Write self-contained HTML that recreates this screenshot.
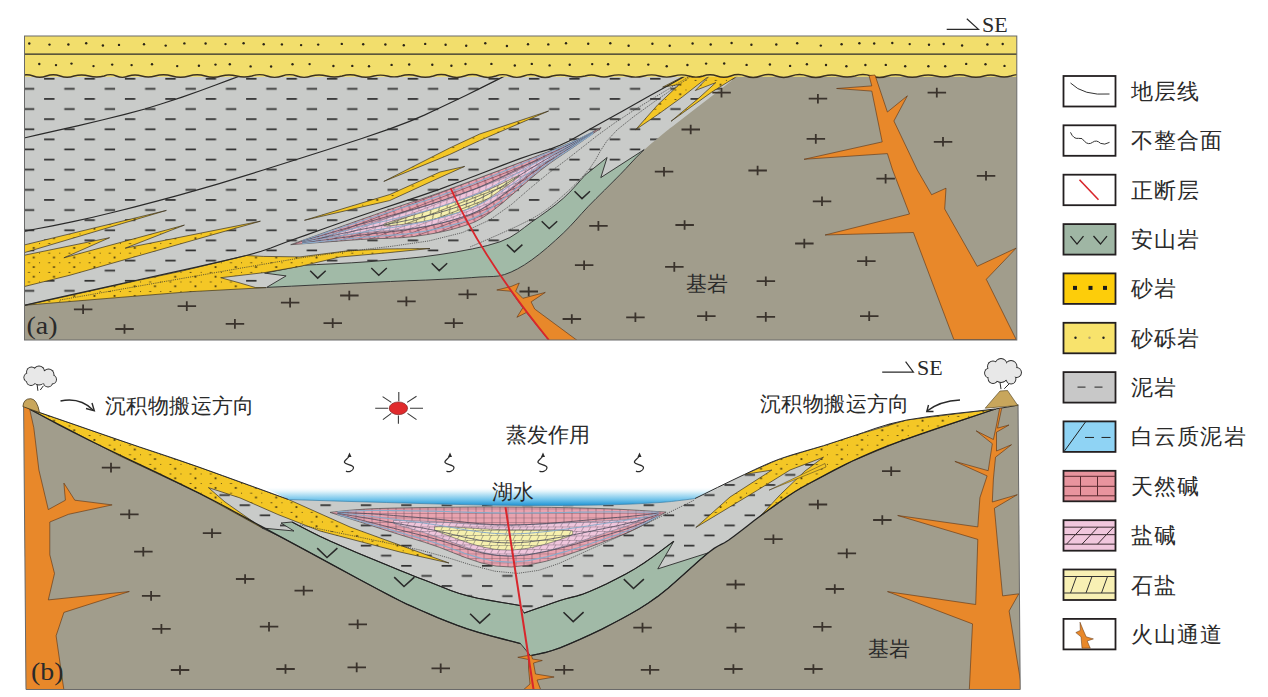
<!DOCTYPE html><html><head><meta charset="utf-8"><style>
html,body{margin:0;padding:0;background:#fff;width:1268px;height:697px;overflow:hidden}
svg{display:block}
text{font-family:"Liberation Serif",serif;fill:#2a2a2a}
</style></head><body>
<svg width="1268" height="697" viewBox="0 0 1268 697">
<defs>
<pattern id="dashA" patternUnits="userSpaceOnUse" width="40.4" height="20.2" x="44.1" y="-2.9">
<rect x="0" y="0" width="10.4" height="1.7" fill="#2e2e2e"/>
<rect x="20.2" y="10.1" width="10.4" height="1.7" fill="#2e2e2e"/>
</pattern>
<pattern id="dashB" patternUnits="userSpaceOnUse" width="40.4" height="20.2" x="37.6" y="-0.65">
<rect x="0" y="0" width="10.4" height="1.7" fill="#2e2e2e"/>
<rect x="20.2" y="10.1" width="10.4" height="1.7" fill="#2e2e2e"/>
</pattern>
<pattern id="dotsS" patternUnits="userSpaceOnUse" width="20.2" height="9.6" x="39.1" y="262.3">
<rect x="-0.9" y="-0.9" width="1.8" height="1.8" fill="#4a3a10"/>
<rect x="9.2" y="-0.9" width="1.8" height="1.8" fill="#4a3a10"/>
<rect x="14" y="3.9" width="1.8" height="1.8" fill="#4a3a10"/>
</pattern>
<pattern id="gridP" patternUnits="userSpaceOnUse" width="8" height="4.5">
<rect width="8" height="4.5" fill="#e9a3af"/>
<path d="M0 0.25H8M4 0V4.5" stroke="#7a5866" stroke-width="0.55"/>
</pattern>
<pattern id="hatchP" patternUnits="userSpaceOnUse" width="7" height="4.5">
<rect width="7" height="4.5" fill="#f0c6dc"/>
<path d="M0 0.25H7M0.5 4.5L3 0" stroke="#6a5866" stroke-width="0.5"/>
</pattern>
<pattern id="hatchY" patternUnits="userSpaceOnUse" width="8" height="5">
<rect width="8" height="5" fill="#f6f0ae"/>
<path d="M0 0.25H8M1 5L3.5 0" stroke="#555" stroke-width="0.5"/>
</pattern>
<pattern id="gridA" patternUnits="userSpaceOnUse" width="8" height="4.5" patternTransform="rotate(-21)">
<rect width="8" height="4.5" fill="#e6a0ac"/>
<path d="M0 0.3H8M4 0V4.5" stroke="#5a3a48" stroke-width="0.65"/>
</pattern>
<pattern id="hatchPA" patternUnits="userSpaceOnUse" width="7" height="4.5" patternTransform="rotate(-21)">
<rect width="7" height="4.5" fill="#f0c6dc"/>
<path d="M0 0.25H7M0.5 4.5L3 0" stroke="#6a5866" stroke-width="0.5"/>
</pattern>
<pattern id="hatchYA" patternUnits="userSpaceOnUse" width="9" height="6" patternTransform="rotate(-21)">
<rect width="9" height="6" fill="#f6f0ae"/>
<path d="M0 0.3H9M1 6L4.5 0" stroke="#3a3a30" stroke-width="0.7"/>
</pattern>
<linearGradient id="lake" x1="0" y1="0" x2="0" y2="1">
<stop offset="0" stop-color="#ffffff" stop-opacity="0"/>
<stop offset="0.3" stop-color="#d6eff9"/>
<stop offset="0.7" stop-color="#6ec2ea"/>
<stop offset="1" stop-color="#1f92d3"/>
</linearGradient>
<clipPath id="clipA"><rect x="24.5" y="36" width="992.3" height="304"/></clipPath>
<clipPath id="clipB"><polygon points="23.6,380 1018,380 1020.2,689.5 26,689.5"/></clipPath>
</defs>

<g clip-path="url(#clipA)">
<rect x="24" y="36" width="994" height="305" fill="#a19d8c"/>
<polygon points="24.0,60.0 745.0,60.0 745.0,70.0 744.9,70.1 745.2,70.0 743.6,71.3 738.1,75.6 726.4,84.7 710.0,97.4 693.4,110.3 680.5,120.3 673.1,126.0 668.8,129.3 665.6,131.8 661.7,135.0 656.6,139.2 651.3,143.6 646.0,148.2 640.7,153.0 635.8,157.9 631.0,163.0 625.9,168.5 620.0,174.7 612.7,182.0 604.5,190.2 596.1,198.5 588.4,206.3 581.8,213.4 575.8,220.1 569.8,226.6 563.2,233.2 555.6,240.2 547.5,247.4 539.3,254.2 531.6,260.0 524.5,264.8 517.7,268.8 511.2,272.0 504.7,274.5 498.7,276.0 493.2,276.5 487.2,276.7 480.0,277.0 471.8,277.6 462.8,278.2 452.5,278.8 440.0,279.4 425.4,280.1 409.0,280.7 390.5,281.5 370.0,282.4 345.9,283.5 318.8,284.8 291.4,286.2 266.7,287.4 247.7,288.3 232.2,289.0 214.8,290.0 190.0,291.7 150.9,294.8 102.4,298.8 56.2,302.6 24.3,305.3 24.0,310.0" fill="#c9cbc9" />
<polygon points="24.0,60.0 745.0,60.0 745.0,70.0 744.9,70.1 745.2,70.0 743.6,71.3 738.1,75.6 726.4,84.7 710.0,97.4 693.4,110.3 680.5,120.3 673.1,126.0 668.8,129.3 665.6,131.8 661.7,135.0 656.6,139.2 651.3,143.6 646.0,148.2 640.7,153.0 635.8,157.9 631.0,163.0 625.9,168.5 620.0,174.7 612.7,182.0 604.5,190.2 596.1,198.5 588.4,206.3 581.8,213.4 575.8,220.1 569.8,226.6 563.2,233.2 555.6,240.2 547.5,247.4 539.3,254.2 531.6,260.0 524.5,264.8 517.7,268.8 511.2,272.0 504.7,274.5 498.7,276.0 493.2,276.5 487.2,276.7 480.0,277.0 471.8,277.6 462.8,278.2 452.5,278.8 440.0,279.4 425.4,280.1 409.0,280.7 390.5,281.5 370.0,282.4 345.9,283.5 318.8,284.8 291.4,286.2 266.7,287.4 247.7,288.3 232.2,289.0 214.8,290.0 190.0,291.7 150.9,294.8 102.4,298.8 56.2,302.6 24.3,305.3 24.0,310.0" fill="url(#dashA)" />
<polygon points="266.7,287.4 286.1,275.9 264.6,273.1 304.7,265.2 316.3,264.6 333.0,263.8 351.8,262.8 370.0,261.6 387.4,260.2 405.3,258.6 423.1,256.8 440.0,254.5 456.4,251.9 472.4,248.9 487.2,245.6 500.0,241.8 509.9,237.5 517.6,232.6 524.4,227.5 531.6,222.1 539.7,216.4 548.0,210.5 556.0,204.4 563.2,198.4 569.9,192.0 576.1,185.3 581.3,179.4 585.0,175.2 607.1,157.5 600.8,177.6 644.2,149.6 640.7,153.0 635.8,157.9 631.0,163.0 625.9,168.5 620.0,174.7 612.7,182.0 604.5,190.2 596.1,198.5 588.4,206.3 581.8,213.4 575.8,220.1 569.8,226.6 563.2,233.2 555.6,240.2 547.5,247.4 539.3,254.2 531.6,260.0 524.5,264.8 517.7,268.8 511.2,272.0 504.7,274.5 498.7,276.0 493.2,276.5 487.2,276.7 480.0,277.0 471.8,277.6 462.8,278.2 452.5,278.8 440.0,279.4 425.4,280.1 409.0,280.7 390.5,281.5 370.0,282.4 345.9,283.5 318.8,284.8 291.4,286.2 266.7,287.4" fill="#a1baa7" stroke="#2a2a2a" stroke-width="0.9" />
<polygon points="24.5,244.9 166.4,210.4 24.5,252.6" fill="#f4c726" stroke="#3a3020" stroke-width="0.7" />
<polygon points="24.5,244.9 166.4,210.4 24.5,252.6" fill="url(#dotsS)" />
<polygon points="24.5,255.2 109.6,237.7 63.9,257.8 184.4,225.1 125.2,248.2 260.4,221.2 70.0,275.2 24.5,286.5" fill="#f4c726" stroke="#3a3020" stroke-width="0.7" />
<polygon points="24.5,255.2 109.6,237.7 63.9,257.8 184.4,225.1 125.2,248.2 260.4,221.2 70.0,275.2 24.5,286.5" fill="url(#dotsS)" />
<polygon points="304.4,220.3 389.8,194.5 440.0,172.0 464.7,166.4 440.0,177.5 389.8,200.5" fill="#f4c726" stroke="#3a3020" stroke-width="0.7" />
<polygon points="304.4,220.3 389.8,194.5 440.0,172.0 464.7,166.4 440.0,177.5 389.8,200.5" fill="url(#dotsS)" />
<polygon points="383.8,181.4 449.7,148.0 479.7,134.0 548.6,111.0 479.7,140.5 449.7,154.5" fill="#f4c726" stroke="#3a3020" stroke-width="0.7" />
<polygon points="383.8,181.4 449.7,148.0 479.7,134.0 548.6,111.0 479.7,140.5 449.7,154.5" fill="url(#dotsS)" />
<polygon points="41.3,301.8 137.7,280.5 180.0,271.5 246.2,255.5 263.3,256.4 300.0,256.9 347.8,250.8 385.0,249.0 430.0,248.5 385.0,253.0 340.0,257.0 300.0,266.4 265.1,272.5 220.7,277.7 240.0,283.0 255.7,287.6 266.1,287.6 190.0,291.7 120.0,297.4 24.3,305.3" fill="#f4c726" stroke="#3a3020" stroke-width="0.7" />
<polygon points="41.3,301.8 137.7,280.5 180.0,271.5 246.2,255.5 263.3,256.4 300.0,256.9 347.8,250.8 385.0,249.0 430.0,248.5 385.0,253.0 340.0,257.0 300.0,266.4 265.1,272.5 220.7,277.7 240.0,283.0 255.7,287.6 266.1,287.6 190.0,291.7 120.0,297.4 24.3,305.3" fill="url(#dotsS)" />
<polygon points="685.9,75.1 710.2,75.1 682.2,97.0 658.9,113.8 635.6,129.7 658.0,104.5 679.4,84.4 662.6,87.2" fill="#f4c726" stroke="#3a3020" stroke-width="0.7" />
<polygon points="685.9,75.1 710.2,75.1 682.2,97.0 658.9,113.8 635.6,129.7 658.0,104.5 679.4,84.4 662.6,87.2" fill="url(#dotsS)" />
<polygon points="710.2,75.1 738.1,75.6 712.0,91.9 671.0,121.3 700.0,97.0 715.8,82.6 695.3,90.5" fill="#f4c726" stroke="#3a3020" stroke-width="0.7" />
<polygon points="710.2,75.1 738.1,75.6 712.0,91.9 671.0,121.3 700.0,97.0 715.8,82.6 695.3,90.5" fill="url(#dotsS)" />
<polygon points="290.7,244.7 300.9,241.0 315.5,235.8 331.8,229.9 347.0,224.5 360.8,219.6 374.5,214.8 387.7,210.2 400.0,206.0 410.0,202.7 418.3,200.0 427.5,196.9 440.0,192.5 457.9,185.9 479.3,177.9 501.1,169.7 520.0,162.5 535.2,156.7 548.5,151.6 560.2,146.9 570.8,142.5 580.5,138.0 589.1,133.8 596.1,130.1 601.0,127.5 601.0,128.1 595.6,131.8 587.8,137.2 579.1,143.3 570.8,149.0 563.7,153.8 557.0,158.3 549.6,163.5 540.6,170.3 529.0,180.0 515.5,191.8 502.0,203.4 490.4,212.5 481.8,218.2 475.1,221.8 468.5,224.4 460.3,227.0 450.1,229.9 438.7,232.5 426.6,234.7 414.1,236.5 401.6,237.7 388.7,238.3 375.1,238.7 360.4,239.5 342.5,240.8 322.2,242.3 303.6,243.7 290.7,244.7" fill="url(#gridA)" stroke="#4a4a4a" stroke-width="0.7" />
<polygon points="321.7,237.7 325.6,236.5 329.5,235.4 333.4,234.3 337.2,233.1 341.1,232.0 345.0,230.8 348.9,229.7 352.8,228.5 356.6,227.3 360.5,226.1 364.4,225.0 368.3,223.8 372.2,222.6 376.0,221.4 379.9,220.2 383.8,219.0 387.7,217.8 391.5,216.6 395.4,215.4 399.3,214.2 403.2,213.0 407.1,211.8 410.9,210.6 414.8,209.5 418.7,208.2 422.6,207.0 426.5,205.8 430.3,204.5 434.2,203.2 438.1,201.9 442.0,200.6 445.9,199.3 449.7,198.0 453.6,196.6 457.5,195.3 461.4,193.9 465.2,192.5 469.1,191.2 473.0,189.8 476.9,188.4 480.8,186.9 484.6,185.3 488.5,183.7 492.4,182.0 496.3,180.3 500.2,178.6 504.0,176.9 507.9,175.1 511.8,173.3 515.7,171.5 519.5,169.7 523.4,167.8 527.3,166.0 531.2,164.1 535.1,162.3 538.9,160.4 542.8,158.5 546.7,156.7 550.6,154.8 554.5,153.0 558.3,151.2 562.2,149.3 566.1,147.5 570.0,145.5 573.8,143.5 577.7,141.4 581.6,139.3 581.6,139.7 577.7,142.1 573.8,144.5 570.0,146.9 566.1,149.2 562.2,151.6 558.3,153.9 554.5,156.3 550.6,158.7 546.7,161.3 542.8,163.9 538.9,166.6 535.1,169.4 531.2,172.3 527.3,175.2 523.4,178.2 519.5,181.3 515.7,184.3 511.8,187.3 507.9,190.3 504.0,193.3 500.2,196.3 496.3,199.1 492.4,201.9 488.5,204.5 484.6,206.9 480.8,209.3 476.9,211.3 473.0,213.1 469.1,214.7 465.2,216.0 461.4,217.4 457.5,218.6 453.6,219.8 449.7,220.9 445.9,221.9 442.0,222.9 438.1,223.8 434.2,224.6 430.3,225.4 426.5,226.2 422.6,226.8 418.7,227.4 414.8,228.0 410.9,228.5 407.1,229.0 403.2,229.4 399.3,229.8 395.4,230.1 391.5,230.4 387.7,230.7 383.8,231.0 379.9,231.3 376.0,231.6 372.2,232.0 368.3,232.3 364.4,232.7 360.5,233.1 356.6,233.5 352.8,234.0 348.9,234.5 345.0,235.0 341.1,235.5 337.2,236.0 333.4,236.5 329.5,237.1 325.6,237.6 321.7,238.2" fill="url(#hatchPA)" stroke="#6a7a90" stroke-width="0.6" />
<polygon points="383.8,224.1 387.7,222.8 391.5,221.6 395.4,220.4 399.3,219.3 403.2,218.1 407.1,216.9 410.9,215.8 414.8,214.7 418.7,213.5 422.6,212.3 426.5,211.2 430.3,209.9 434.2,208.7 438.1,207.5 442.0,206.2 445.9,204.9 449.7,203.7 453.6,202.4 457.5,201.1 461.4,199.9 465.2,198.6 469.1,197.3 473.0,196.0 476.9,194.5 480.8,193.0 484.6,191.4 488.5,189.8 492.4,188.0 496.3,186.2 500.2,184.4 504.0,182.5 507.9,180.6 511.8,178.7 515.7,176.8 519.5,175.2 519.5,175.8 515.7,179.0 511.8,181.9 507.9,184.8 504.0,187.7 500.2,190.5 496.3,193.2 492.4,195.9 488.5,198.4 484.6,200.8 480.8,203.1 476.9,205.1 473.0,206.9 469.1,208.6 465.2,210.0 461.4,211.4 457.5,212.7 453.6,214.0 449.7,215.2 445.9,216.2 442.0,217.3 438.1,218.3 434.2,219.2 430.3,220.0 426.5,220.8 422.6,221.5 418.7,222.2 414.8,222.8 410.9,223.3 407.1,223.8 403.2,224.3 399.3,224.7 395.4,225.1 391.5,225.5 387.7,225.8 383.8,226.0" fill="url(#hatchYA)" stroke="#555" stroke-width="0.6" />
<polyline points="302.3,240.8 306.2,239.5 310.1,238.2 314.0,236.8 317.9,235.5 321.7,234.2 325.6,232.9 329.5,231.6 333.4,230.3 337.2,229.0 341.1,227.7 345.0,226.4 348.9,225.2 352.8,223.9 356.6,222.6 360.5,221.3 364.4,220.0 368.3,218.8 372.2,217.5 376.0,216.3 379.9,215.0 383.8,213.8 387.7,212.5 391.5,211.3 395.4,210.0 399.3,208.8 403.2,207.5 407.1,206.3 410.9,205.1 414.8,203.9 418.7,202.7 422.6,201.5 426.5,200.3 430.3,199.0 434.2,197.6 438.1,196.3 442.0,195.0 445.9,193.6 449.7,192.2 453.6,190.8 457.5,189.4 461.4,188.0 465.2,186.5 469.1,185.1 473.0,183.7 476.9,182.2 480.8,180.7 484.6,179.1 488.5,177.6 492.4,176.0 496.3,174.4 500.2,172.8 504.0,171.2 507.9,169.6 511.8,168.0 515.7,166.4 519.5,164.7 523.4,163.1 527.3,161.5 531.2,159.8 535.1,158.2 538.9,156.6 542.8,154.9 546.7,153.3 550.6,151.7 554.5,150.1 558.3,148.4 562.2,146.8 566.1,145.1 570.0,143.4 573.8,141.6 577.7,139.7 581.6,137.8 585.5,135.8 589.4,133.8 593.2,131.7" fill="none" stroke="#8aaac8" stroke-width="1.2" />
<polyline points="302.3,241.2 306.2,240.1 310.1,238.9 314.0,237.8 317.9,236.6 321.7,235.5 325.6,234.3 329.5,233.2 333.4,232.0 337.2,230.9 341.1,229.7 345.0,228.6 348.9,227.5 352.8,226.3 356.6,225.2 360.5,224.1 364.4,223.0 368.3,221.9 372.2,220.8 376.0,219.7 379.9,218.6 383.8,217.5 387.7,216.4 391.5,215.3 395.4,214.3 399.3,213.2 403.2,212.1 407.1,211.0 410.9,209.9 414.8,208.9 418.7,207.8 422.6,206.6 426.5,205.5 430.3,204.3 434.2,203.1 438.1,201.8 442.0,200.6 445.9,199.3 449.7,197.9 453.6,196.6 457.5,195.2 461.4,193.9 465.2,192.5 469.1,191.0 473.0,189.6 476.9,188.1 480.8,186.5 484.6,184.8 488.5,183.1 492.4,181.3 496.3,179.5 500.2,177.7 504.0,175.9 507.9,174.0 511.8,172.1 515.7,170.2 519.5,168.3 523.4,166.4 527.3,164.5 531.2,162.6 535.1,160.7 538.9,158.9 542.8,157.0 546.7,155.2 550.6,153.4 554.5,151.6 558.3,149.8 562.2,148.0 566.1,146.2 570.0,144.3 573.8,142.4 577.7,140.4 581.6,138.4 585.5,136.3 589.4,134.2 593.2,132.0" fill="none" stroke="#4a4a5a" stroke-width="0.8" />
<polyline points="302.3,241.7 306.2,240.7 310.1,239.7 314.0,238.7 317.9,237.7 321.7,236.7 325.6,235.7 329.5,234.7 333.4,233.7 337.2,232.7 341.1,231.7 345.0,230.7 348.9,229.8 352.8,228.8 356.6,227.8 360.5,226.8 364.4,225.9 368.3,225.0 372.2,224.0 376.0,223.1 379.9,222.2 383.8,221.3 387.7,220.4 391.5,219.4 395.4,218.5 399.3,217.6 403.2,216.7 407.1,215.7 410.9,214.7 414.8,213.8 418.7,212.8 422.6,211.8 426.5,210.7 430.3,209.6 434.2,208.5 438.1,207.4 442.0,206.2 445.9,204.9 449.7,203.7 453.6,202.4 457.5,201.1 461.4,199.8 465.2,198.4 469.1,197.0 473.0,195.5 476.9,193.9 480.8,192.3 484.6,190.5 488.5,188.6 492.4,186.6 496.3,184.6 500.2,182.6 504.0,180.5 507.9,178.3 511.8,176.2 515.7,174.1 519.5,171.9 523.4,169.7 527.3,167.6 531.2,165.4 535.1,163.3 538.9,161.2 542.8,159.1 546.7,157.1 550.6,155.1 554.5,153.1 558.3,151.2 562.2,149.2 566.1,147.2 570.0,145.3 573.8,143.2 577.7,141.1 581.6,138.9 585.5,136.7 589.4,134.5 593.2,132.2" fill="none" stroke="#8aaac8" stroke-width="1.0" />
<polyline points="302.3,242.2 306.2,241.3 310.1,240.5 314.0,239.6 317.9,238.8 321.7,237.9 325.6,237.1 329.5,236.2 333.4,235.4 337.2,234.6 341.1,233.7 345.0,232.9 348.9,232.1 352.8,231.3 356.6,230.4 360.5,229.6 364.4,228.8 368.3,228.1 372.2,227.3 376.0,226.5 379.9,225.8 383.8,225.0 387.7,224.3 391.5,223.5 395.4,222.8 399.3,222.0 403.2,221.2 407.1,220.4 410.9,219.6 414.8,218.7 418.7,217.8 422.6,216.9 426.5,216.0 430.3,215.0 434.2,213.9 438.1,212.9 442.0,211.7 445.9,210.6 449.7,209.4 453.6,208.2 457.5,206.9 461.4,205.6 465.2,204.3 469.1,202.9 473.0,201.4 476.9,199.8 480.8,198.1 484.6,196.1 488.5,194.1 492.4,192.0 496.3,189.7 500.2,187.5 504.0,185.1 507.9,182.7 511.8,180.3 515.7,177.9 519.5,175.5 523.4,173.0 527.3,170.6 531.2,168.2 535.1,165.8 538.9,163.5 542.8,161.2 546.7,159.0 550.6,156.8 554.5,154.6 558.3,152.5 562.2,150.4 566.1,148.3 570.0,146.2 573.8,144.0 577.7,141.8 581.6,139.5 585.5,137.2 589.4,134.9 593.2,132.5" fill="none" stroke="#4a4a5a" stroke-width="0.8" />
<polyline points="302.3,242.6 306.2,241.9 310.1,241.2 314.0,240.5 317.9,239.9 321.7,239.2 325.6,238.5 329.5,237.8 333.4,237.1 337.2,236.4 341.1,235.7 345.0,235.1 348.9,234.4 352.8,233.7 356.6,233.0 360.5,232.4 364.4,231.8 368.3,231.1 372.2,230.5 376.0,229.9 379.9,229.4 383.8,228.8 387.7,228.2 391.5,227.6 395.4,227.0 399.3,226.4 403.2,225.8 407.1,225.1 410.9,224.4 414.8,223.7 418.7,222.9 422.6,222.1 426.5,221.2 430.3,220.3 434.2,219.3 438.1,218.4 442.0,217.3 445.9,216.3 449.7,215.2 453.6,214.0 457.5,212.8 461.4,211.5 465.2,210.2 469.1,208.9 473.0,207.4 476.9,205.7 480.8,203.9 484.6,201.8 488.5,199.6 492.4,197.3 496.3,194.8 500.2,192.3 504.0,189.8 507.9,187.1 511.8,184.4 515.7,181.8 519.5,179.1 523.4,176.4 527.3,173.7 531.2,171.0 535.1,168.4 538.9,165.8 542.8,163.3 546.7,160.8 550.6,158.4 554.5,156.2 558.3,153.9 562.2,151.7 566.1,149.4 570.0,147.1 573.8,144.8 577.7,142.4 581.6,140.1 585.5,137.6 589.4,135.2 593.2,132.8" fill="none" stroke="#8aaac8" stroke-width="1.0" />
<polyline points="302.3,243.1 306.2,242.5 310.1,242.0 314.0,241.5 317.9,240.9 321.7,240.4 325.6,239.9 329.5,239.3 333.4,238.8 337.2,238.3 341.1,237.7 345.0,237.2 348.9,236.7 352.8,236.2 356.6,235.7 360.5,235.1 364.4,234.7 368.3,234.2 372.2,233.8 376.0,233.3 379.9,232.9 383.8,232.5 387.7,232.1 391.5,231.7 395.4,231.3 399.3,230.8 403.2,230.3 407.1,229.8 410.9,229.2 414.8,228.6 418.7,227.9 422.6,227.2 426.5,226.5 430.3,225.6 434.2,224.8 438.1,223.9 442.0,222.9 445.9,221.9 449.7,220.9 453.6,219.8 457.5,218.6 461.4,217.4 465.2,216.1 469.1,214.8 473.0,213.3 476.9,211.6 480.8,209.7 484.6,207.4 488.5,205.1 492.4,202.6 496.3,199.9 500.2,197.2 504.0,194.4 507.9,191.5 511.8,188.5 515.7,185.6 519.5,182.6 523.4,179.7 527.3,176.7 531.2,173.8 535.1,170.9 538.9,168.1 542.8,165.3 546.7,162.7 550.6,160.1 554.5,157.7 558.3,155.3 562.2,152.9 566.1,150.5 570.0,148.1 573.8,145.6 577.7,143.1 581.6,140.6 585.5,138.1 589.4,135.6 593.2,133.0" fill="none" stroke="#4a4a5a" stroke-width="0.8" />
<polyline points="302.3,243.5 306.2,243.1 310.1,242.7 314.0,242.3 317.9,241.9 321.7,241.4 325.6,241.0 329.5,240.6 333.4,240.2 337.2,239.8 341.1,239.4 345.0,239.1 348.9,238.7 352.8,238.3 356.6,237.9 360.5,237.5 364.4,237.2 368.3,236.9 372.2,236.6 376.0,236.3 379.9,236.0 383.8,235.8 387.7,235.5 391.5,235.2 395.4,234.9 399.3,234.6 403.2,234.2 407.1,233.8 410.9,233.3 414.8,232.9 418.7,232.2 422.6,231.6 426.5,231.0 430.3,230.2 434.2,229.4 438.1,228.6 442.0,227.7 445.9,226.8 449.7,225.9 453.6,224.7 457.5,223.6 461.4,222.5 465.2,221.2 469.1,219.9 473.0,218.4 476.9,216.6 480.8,214.6 484.6,212.3 488.5,209.8 492.4,207.1 496.3,204.3 500.2,201.4 504.0,198.4 507.9,195.2 511.8,192.1 515.7,188.9 519.5,185.7 523.4,182.5 527.3,179.3 531.2,176.2 535.1,173.1 538.9,170.0 542.8,167.1 546.7,164.3 550.6,161.6 554.5,159.0 558.3,156.4 562.2,153.9 566.1,151.4 570.0,148.9 573.8,146.3 577.7,143.7 581.6,141.1 585.5,138.5 589.4,135.9 593.2,133.3" fill="none" stroke="#8aaac8" stroke-width="1.2" />
<g fill="none" stroke="#2a2a2a" stroke-width="1.2">
<polyline points="24.0,138.0 37.5,134.9 56.3,130.6 78.6,125.6 102.1,120.0 124.9,114.4 145.0,109.0 163.4,103.3 182.1,97.1 200.1,90.7 216.3,84.7 230.0,79.6 240.0,76.0" fill="none" stroke="#2a2a2a" stroke-width="1.2" />
<polyline points="24.0,231.3 35.7,229.0 52.4,225.8 71.8,221.9 91.8,217.5 112.5,212.5 134.9,206.8 157.8,200.8 180.0,194.8 200.2,189.1 219.3,183.6 239.6,177.4 263.3,170.0 293.4,160.5 328.0,149.5 361.8,138.5 389.8,128.9 409.6,121.4 424.3,115.1 436.8,109.3 450.0,103.0 465.8,95.5 482.1,87.4 496.6,80.1 506.7,75.0" fill="none" stroke="#2a2a2a" stroke-width="1.2" />
<polyline points="24.3,305.3 44.8,300.7 74.2,294.2 107.0,286.9 137.7,280.0 166.7,273.6 196.3,267.1 223.7,260.9 246.2,255.5 261.2,251.3 270.8,248.0 279.2,244.7 290.5,240.5 305.9,235.1 323.0,229.0 341.3,222.5 360.0,216.0 379.3,209.5 399.3,202.9 419.8,196.1 440.0,189.1 460.9,181.3 482.5,173.0 502.8,165.1 520.0,158.6 532.8,154.3 542.4,151.4 550.9,148.9 560.0,145.3 569.1,141.0 577.6,136.3 587.6,130.6 601.0,123.0 621.4,111.7 646.6,97.6 670.5,84.2 687.0,75.0" fill="none" stroke="#2a2a2a" stroke-width="1.2" />
</g>
<polyline points="60.0,300.0 104.9,292.1 169.8,280.6 239.8,268.3 300.0,258.0 347.9,251.3 390.9,246.4 429.0,240.9 462.4,232.6 489.6,220.0 511.2,204.7 529.7,188.6 548.0,173.6 565.9,160.2 582.2,147.4 598.1,134.9 615.0,122.7 634.9,109.6 656.7,96.2 676.3,84.3 690.0,76.0" fill="none" stroke="#333" stroke-width="0.7" stroke-dasharray="1.2 1"/>
<polyline points="470.0,247.0 481.8,241.9 498.8,234.5 516.9,226.3 531.6,219.0 541.7,212.9 549.6,207.2 556.3,201.6 563.2,195.5 570.2,189.2 576.9,182.7 583.4,175.7 590.0,168.0 595.7,159.6 600.6,150.6 607.0,140.8 617.0,130.0 633.7,116.6 655.2,101.1 675.8,86.9 690.0,77.0" fill="none" stroke="#333" stroke-width="0.6" stroke-dasharray="1.5 0.8"/>
<rect x="24" y="35.8" width="994" height="41" fill="#f2de6c"/>
<line x1="24" y1="54.1" x2="1018" y2="54.1" stroke="#2a2a2a" stroke-width="1.2"/>
<path d="M20,76 q6.6,-2.5 13.2,0 q6.6,2.5 13.2,0 q6.9,-2.5 13.8,0 q6.9,2.5 13.8,0 q7.6,-1.9 15.1,0 q7.6,1.9 15.1,0 q6.0,-2.8 12.1,0 q6.0,2.8 12.1,0 q6.6,-2.1 13.3,0 q6.6,2.1 13.3,0 q8.5,-2.4 17.0,0 q8.5,2.4 17.0,0 q8.1,-2.4 16.2,0 q8.1,2.4 16.2,0 q7.6,-2.0 15.2,0 q7.6,2.0 15.2,0 q7.6,-2.8 15.2,0 q7.6,2.8 15.2,0 q7.3,-2.7 14.6,0 q7.3,2.7 14.6,0 q7.7,-1.9 15.4,0 q7.7,1.9 15.4,0 q7.9,-2.5 15.8,0 q7.9,2.5 15.8,0 q6.8,-1.8 13.5,0 q6.8,1.8 13.5,0 q8.2,-2.4 16.3,0 q8.2,2.4 16.3,0 q7.8,-2.9 15.6,0 q7.8,2.9 15.6,0 q7.8,-2.9 15.6,0 q7.8,2.9 15.6,0 q7.0,-2.8 14.0,0 q7.0,2.8 14.0,0 q7.1,-2.9 14.2,0 q7.1,2.9 14.2,0 q8.2,-1.9 16.4,0 q8.2,1.9 16.4,0 q6.3,-2.1 12.7,0 q6.3,2.1 12.7,0 q8.4,-2.3 16.8,0 q8.4,2.3 16.8,0 q7.6,-2.2 15.1,0 q7.6,2.2 15.1,0 q7.3,-2.3 14.5,0 q7.3,2.3 14.5,0 q6.9,-2.5 13.8,0 q6.9,2.5 13.8,0 q7.5,-2.9 14.9,0 q7.5,2.9 14.9,0 q7.7,-2.9 15.4,0 q7.7,2.9 15.4,0 q8.1,-3.0 16.3,0 q8.1,3.0 16.3,0 q7.7,-2.0 15.4,0 q7.7,2.0 15.4,0 q8.2,-3.0 16.3,0 q8.2,3.0 16.3,0 q8.3,-2.5 16.5,0 q8.3,2.5 16.5,0 q7.8,-2.1 15.6,0 q7.8,2.1 15.6,0 q8.1,-2.5 16.2,0 q8.1,2.5 16.2,0 q6.7,-1.9 13.4,0 q6.7,1.9 13.4,0 q8.1,-3.0 16.3,0 q8.1,3.0 16.3,0" fill="none" stroke="#3a3020" stroke-width="1.4"/>
<g fill="#2a2418"><circle cx="29.3" cy="43.5" r="1.2"/><circle cx="49.5" cy="44.6" r="1.2"/><circle cx="68.4" cy="44.5" r="1.2"/><circle cx="86.2" cy="43.2" r="1.2"/><circle cx="102.9" cy="45.5" r="1.2"/><circle cx="119.0" cy="44.9" r="1.2"/><circle cx="144.0" cy="44.2" r="1.2"/><circle cx="165.7" cy="45.6" r="1.2"/><circle cx="184.4" cy="43.4" r="1.2"/><circle cx="205.6" cy="43.5" r="1.2"/><circle cx="225.5" cy="44.1" r="1.2"/><circle cx="243.6" cy="43.2" r="1.2"/><circle cx="263.7" cy="44.3" r="1.2"/><circle cx="281.9" cy="44.4" r="1.2"/><circle cx="301.1" cy="45.1" r="1.2"/><circle cx="318.2" cy="44.6" r="1.2"/><circle cx="341.8" cy="43.9" r="1.2"/><circle cx="363.2" cy="44.3" r="1.2"/><circle cx="385.4" cy="44.5" r="1.2"/><circle cx="403.8" cy="45.3" r="1.2"/><circle cx="425.2" cy="43.9" r="1.2"/><circle cx="445.6" cy="44.7" r="1.2"/><circle cx="466.2" cy="45.8" r="1.2"/><circle cx="485.3" cy="43.2" r="1.2"/><circle cx="506.9" cy="46.0" r="1.2"/><circle cx="528.0" cy="44.2" r="1.2"/><circle cx="548.3" cy="44.4" r="1.2"/><circle cx="566.0" cy="43.2" r="1.2"/><circle cx="588.2" cy="43.7" r="1.2"/><circle cx="610.3" cy="43.2" r="1.2"/><circle cx="628.6" cy="45.7" r="1.2"/><circle cx="652.4" cy="43.8" r="1.2"/><circle cx="669.7" cy="45.7" r="1.2"/><circle cx="692.6" cy="43.5" r="1.2"/><circle cx="710.7" cy="44.5" r="1.2"/><circle cx="731.6" cy="43.0" r="1.2"/><circle cx="751.4" cy="44.7" r="1.2"/><circle cx="776.3" cy="44.5" r="1.2"/><circle cx="797.2" cy="43.2" r="1.2"/><circle cx="820.8" cy="45.6" r="1.2"/><circle cx="841.6" cy="44.2" r="1.2"/><circle cx="859.4" cy="43.2" r="1.2"/><circle cx="874.2" cy="43.5" r="1.2"/><circle cx="892.3" cy="43.0" r="1.2"/><circle cx="909.7" cy="44.1" r="1.2"/><circle cx="929.0" cy="44.8" r="1.2"/><circle cx="943.7" cy="44.0" r="1.2"/><circle cx="962.1" cy="45.5" r="1.2"/><circle cx="987.4" cy="44.5" r="1.2"/><circle cx="1002.7" cy="44.0" r="1.2"/><circle cx="39.3" cy="64.0" r="1.2"/><circle cx="56.0" cy="65.1" r="1.2"/><circle cx="71.5" cy="63.6" r="1.2"/><circle cx="93.5" cy="66.1" r="1.2"/><circle cx="112.2" cy="64.6" r="1.2"/><circle cx="131.6" cy="65.1" r="1.2"/><circle cx="152.0" cy="64.2" r="1.2"/><circle cx="177.2" cy="66.1" r="1.2"/><circle cx="198.9" cy="65.7" r="1.2"/><circle cx="215.5" cy="64.6" r="1.2"/><circle cx="229.8" cy="64.3" r="1.2"/><circle cx="250.6" cy="66.4" r="1.2"/><circle cx="271.1" cy="66.5" r="1.2"/><circle cx="292.5" cy="64.2" r="1.2"/><circle cx="309.6" cy="64.1" r="1.2"/><circle cx="333.4" cy="66.0" r="1.2"/><circle cx="352.3" cy="65.9" r="1.2"/><circle cx="369.0" cy="66.2" r="1.2"/><circle cx="391.6" cy="64.9" r="1.2"/><circle cx="409.2" cy="64.5" r="1.2"/><circle cx="432.3" cy="64.7" r="1.2"/><circle cx="451.4" cy="65.7" r="1.2"/><circle cx="465.5" cy="64.0" r="1.2"/><circle cx="491.4" cy="63.9" r="1.2"/><circle cx="514.8" cy="65.5" r="1.2"/><circle cx="531.8" cy="63.9" r="1.2"/><circle cx="549.6" cy="65.4" r="1.2"/><circle cx="569.7" cy="64.8" r="1.2"/><circle cx="592.2" cy="64.1" r="1.2"/><circle cx="608.1" cy="64.2" r="1.2"/><circle cx="628.7" cy="64.8" r="1.2"/><circle cx="648.3" cy="64.6" r="1.2"/><circle cx="666.7" cy="66.2" r="1.2"/><circle cx="687.4" cy="65.0" r="1.2"/><circle cx="706.1" cy="63.6" r="1.2"/><circle cx="724.2" cy="63.5" r="1.2"/><circle cx="746.6" cy="64.9" r="1.2"/><circle cx="769.9" cy="64.5" r="1.2"/><circle cx="790.1" cy="65.9" r="1.2"/><circle cx="806.9" cy="64.2" r="1.2"/><circle cx="826.0" cy="65.0" r="1.2"/><circle cx="846.4" cy="66.2" r="1.2"/><circle cx="865.4" cy="65.0" r="1.2"/><circle cx="885.8" cy="64.9" r="1.2"/><circle cx="905.2" cy="66.3" r="1.2"/><circle cx="928.4" cy="66.3" r="1.2"/><circle cx="945.2" cy="66.3" r="1.2"/><circle cx="966.2" cy="63.9" r="1.2"/><circle cx="985.5" cy="64.2" r="1.2"/><circle cx="1004.5" cy="65.9" r="1.2"/></g>
<polygon points="869.0,75.5 875.0,75.0 887.4,112.0 907.4,95.8 893.9,121.0 917.3,170.0 931.6,194.7 946.0,188.2 944.7,209.0 977.2,266.3 1016.2,248.1 986.3,279.3 1016.2,339.5 953.8,339.5 913.4,232.5 825.0,235.0 909.5,214.0 892.6,170.0 887.4,153.6 804.0,159.3 882.2,141.9 871.8,91.1 836.6,88.5 871.8,85.9" fill="#e8882a" stroke="#5a3010" stroke-width="0.6" />
<polygon points="496.8,290.0 511.0,286.5 519.3,283.0 515.7,291.2 522.8,298.3 545.3,292.4 531.1,301.9 534.7,309.0 577.3,340.5 548.9,340.5 526.4,312.5 516.9,317.3 522.8,307.8 511.0,291.2" fill="#e8882a" stroke="#5a3010" stroke-width="0.6" />
<path d="M450.7,188.3 Q482,258 548.9,340" fill="none" stroke="#d8262c" stroke-width="1.8"/>
<path d="M73.9,309.3h18.5M83.1,304.5v9.6M115.3,329.0h18.5M124.5,324.2v9.6M177.6,306.1h18.5M186.8,301.3v9.6M225.7,323.9h18.5M234.9,319.1v9.6M280.9,302.6h18.5M290.1,297.8v9.6M323.5,323.1h18.5M332.7,318.3v9.6M340.1,295.5h18.5M349.3,290.7v9.6M397.2,301.4h18.5M406.4,296.6v9.6M444.6,323.1h18.5M453.8,318.3v9.6M458.4,294.3h18.5M467.6,289.5v9.6M712.3,92.6h18.5M721.5,87.8v9.6M808.7,98.7h18.5M817.9,93.9v9.6M927.6,92.6h18.5M936.8,87.8v9.6M681.5,129.5h18.5M690.7,124.7v9.6M806.6,138.9h18.5M815.8,134.1v9.6M933.8,141.8h18.5M943.0,137.0v9.6M654.8,171.7h18.5M664.0,166.9v9.6M748.4,170.5h18.5M757.6,165.7v9.6M876.4,178.7h18.5M885.6,173.9v9.6M976.8,175.8h18.5M986.0,171.0v9.6M812.8,201.3h18.5M822.0,196.5v9.6M589.2,225.9h18.5M598.4,221.1v9.6M675.4,225.0h18.5M684.6,220.2v9.6M795.1,243.5h18.5M804.3,238.7v9.6M857.1,261.1h18.5M866.3,256.3v9.6M574.9,265.2h18.5M584.1,260.4v9.6M665.1,266.9h18.5M674.3,262.1v9.6M756.6,281.2h18.5M765.8,276.4v9.6M519.5,291.5h18.5M528.7,286.7v9.6M562.6,319.0h18.5M571.8,314.2v9.6M626.2,317.3h18.5M635.4,312.5v9.6M697.1,316.1h18.5M706.3,311.3v9.6M756.6,316.9h18.5M765.8,312.1v9.6M860.0,316.1h18.5M869.2,311.3v9.6" stroke="#3a332c" stroke-width="1.8" fill="none"/>
<path d="M310.2,270.8L317.7,278.1L325.7,270.8M371.3,268.0L378.8,275.3L386.8,268.0M431.7,263.3L439.2,270.6L447.2,263.3M506.9,244.6L514.4,251.9L522.4,244.6M541.7,221.2L549.2,228.5L557.2,221.2M574.5,191.3L582.0,198.6L590.0,191.3" stroke="#2a2a2a" stroke-width="1.5" fill="none"/>
</g>
<rect x="24.5" y="36" width="992.3" height="304" fill="none" stroke="#6a6a6a" stroke-width="1"/>
<text x="26.5" y="333.5" font-size="25" textLength="31" lengthAdjust="spacingAndGlyphs">(a)</text>
<path d="M946.7,29.4H978.5L966.8,18.7" fill="none" stroke="#2a2a2a" stroke-width="1.2"/>
<text x="982" y="32.3" font-size="22">SE</text>
<g clip-path="url(#clipB)">
<polygon points="20,404 1022,404 1022,690 20,690" fill="#a19d8c"/>
<polygon points="20.0,404.0 21.8,405.0 24.3,406.4 27.1,407.9 29.7,409.2 30.4,409.5 29.9,409.3 31.6,409.8 39.0,412.3 54.3,417.6 75.2,424.8 98.2,432.8 120.0,440.3 139.6,447.0 158.9,453.4 178.5,460.0 198.9,467.1 222.6,475.6 248.6,485.0 272.1,493.5 288.5,499.5 312.9,500.3 348.0,501.4 386.3,502.5 420.0,503.5 447.7,504.2 473.2,504.8 497.1,505.2 520.0,505.5 541.9,505.6 562.5,505.5 581.9,505.3 600.0,505.0 617.0,504.6 632.8,504.0 647.2,503.3 660.0,502.5 671.3,501.5 681.2,500.3 689.3,499.3 695.0,498.5 704.2,494.0 717.6,487.4 732.0,480.4 744.6,474.4 754.3,469.8 762.9,465.9 771.3,462.2 780.4,458.7 791.0,455.2 802.4,451.8 813.5,448.6 823.5,445.7 831.1,443.2 837.3,441.2 843.8,439.0 852.5,436.2 863.5,432.5 875.9,428.2 890.2,423.8 906.8,420.0 928.1,416.7 953.0,413.7 977.1,411.1 995.7,408.9 1007.3,407.1 1014.4,405.8 1018.7,404.7 1022.0,404.0 995.7,408.9 981.9,413.5 962.0,420.1 939.4,427.7 917.6,435.1 900.0,441.3 887.1,446.1 876.6,450.3 867.9,454.1 860.0,457.6 852.5,461.0 845.5,464.3 839.6,467.3 834.2,470.1 829.0,472.9 823.5,475.9 817.8,478.9 812.3,481.7 806.7,484.7 800.9,488.0 794.8,491.7 788.2,496.0 781.3,500.8 774.2,505.9 767.1,511.0 760.3,516.0 753.6,521.0 747.0,526.2 740.5,531.2 734.3,535.9 728.8,540.0 724.5,542.8 721.2,544.4 718.1,546.0 714.1,548.4 708.3,552.8 700.0,559.8 690.0,568.8 679.1,578.6 668.1,588.2 657.8,596.4 648.4,603.0 639.4,608.8 630.4,614.0 621.3,619.0 611.8,624.0 601.5,629.3 590.4,634.6 579.4,639.6 569.0,644.1 560.0,647.8 552.2,650.5 545.2,652.5 539.1,653.9 534.2,654.9 530.5,655.7 520.5,643.6 513.2,641.7 502.8,639.0 490.7,635.8 478.4,632.3 467.3,628.9 457.4,625.4 447.7,621.7 438.2,617.9 429.0,613.9 420.0,610.0 412.6,606.7 406.7,604.1 400.4,601.0 391.8,596.6 378.7,589.7 359.1,579.3 334.4,565.9 307.7,551.4 282.1,537.6 260.9,526.1 245.7,517.9 234.4,511.7 224.5,506.3 213.5,500.5 198.9,493.1 179.1,483.4 155.8,472.2 131.4,460.6 108.2,449.5 88.7,440.0 72.7,431.9 58.6,424.6 46.6,418.2 36.9,413.0 29.7,409.2" fill="#c9cbc9" />
<polygon points="20.0,404.0 21.8,405.0 24.3,406.4 27.1,407.9 29.7,409.2 30.4,409.5 29.9,409.3 31.6,409.8 39.0,412.3 54.3,417.6 75.2,424.8 98.2,432.8 120.0,440.3 139.6,447.0 158.9,453.4 178.5,460.0 198.9,467.1 222.6,475.6 248.6,485.0 272.1,493.5 288.5,499.5 312.9,500.3 348.0,501.4 386.3,502.5 420.0,503.5 447.7,504.2 473.2,504.8 497.1,505.2 520.0,505.5 541.9,505.6 562.5,505.5 581.9,505.3 600.0,505.0 617.0,504.6 632.8,504.0 647.2,503.3 660.0,502.5 671.3,501.5 681.2,500.3 689.3,499.3 695.0,498.5 704.2,494.0 717.6,487.4 732.0,480.4 744.6,474.4 754.3,469.8 762.9,465.9 771.3,462.2 780.4,458.7 791.0,455.2 802.4,451.8 813.5,448.6 823.5,445.7 831.1,443.2 837.3,441.2 843.8,439.0 852.5,436.2 863.5,432.5 875.9,428.2 890.2,423.8 906.8,420.0 928.1,416.7 953.0,413.7 977.1,411.1 995.7,408.9 1007.3,407.1 1014.4,405.8 1018.7,404.7 1022.0,404.0 995.7,408.9 981.9,413.5 962.0,420.1 939.4,427.7 917.6,435.1 900.0,441.3 887.1,446.1 876.6,450.3 867.9,454.1 860.0,457.6 852.5,461.0 845.5,464.3 839.6,467.3 834.2,470.1 829.0,472.9 823.5,475.9 817.8,478.9 812.3,481.7 806.7,484.7 800.9,488.0 794.8,491.7 788.2,496.0 781.3,500.8 774.2,505.9 767.1,511.0 760.3,516.0 753.6,521.0 747.0,526.2 740.5,531.2 734.3,535.9 728.8,540.0 724.5,542.8 721.2,544.4 718.1,546.0 714.1,548.4 708.3,552.8 700.0,559.8 690.0,568.8 679.1,578.6 668.1,588.2 657.8,596.4 648.4,603.0 639.4,608.8 630.4,614.0 621.3,619.0 611.8,624.0 601.5,629.3 590.4,634.6 579.4,639.6 569.0,644.1 560.0,647.8 552.2,650.5 545.2,652.5 539.1,653.9 534.2,654.9 530.5,655.7 520.5,643.6 513.2,641.7 502.8,639.0 490.7,635.8 478.4,632.3 467.3,628.9 457.4,625.4 447.7,621.7 438.2,617.9 429.0,613.9 420.0,610.0 412.6,606.7 406.7,604.1 400.4,601.0 391.8,596.6 378.7,589.7 359.1,579.3 334.4,565.9 307.7,551.4 282.1,537.6 260.9,526.1 245.7,517.9 234.4,511.7 224.5,506.3 213.5,500.5 198.9,493.1 179.1,483.4 155.8,472.2 131.4,460.6 108.2,449.5 88.7,440.0 72.7,431.9 58.6,424.6 46.6,418.2 36.9,413.0 29.7,409.2" fill="url(#dashB)" />
<polygon points="262.0,528.0 294.0,531.0 281.0,523.0 292.0,522.0 296.7,524.4 302.9,527.7 310.7,531.7 319.7,536.2 330.0,541.0 342.6,546.5 357.6,552.9 373.4,559.4 388.1,565.5 400.0,570.4 408.4,573.8 414.3,576.2 419.0,578.1 423.7,579.8 429.5,582.0 436.3,584.7 443.3,587.6 450.7,590.5 458.7,593.3 467.3,595.8 477.7,598.2 489.8,600.4 502.0,602.5 512.6,604.2 520.0,605.5 524.1,613.1 529.1,611.3 536.2,608.8 544.4,605.9 552.7,603.0 560.0,600.5 566.0,598.7 571.2,597.4 576.5,596.1 582.1,594.4 588.9,591.8 597.1,588.2 606.4,583.9 616.1,579.1 625.8,574.0 634.8,568.9 643.7,563.2 652.8,556.9 661.3,550.6 668.6,545.1 673.8,541.3 657.8,568.9 708.3,552.8 708.3,552.8 700.0,559.8 690.0,568.8 679.1,578.6 668.1,588.2 657.8,596.4 648.4,603.0 639.4,608.8 630.4,614.0 621.3,619.0 611.8,624.0 601.5,629.3 590.4,634.6 579.4,639.6 569.0,644.1 560.0,647.8 552.2,650.5 545.2,652.5 539.1,653.9 534.2,654.9 530.5,655.7 520.5,643.6 513.2,641.7 502.8,639.0 490.7,635.8 478.4,632.3 467.3,628.9 457.4,625.4 447.7,621.7 438.2,617.9 429.0,613.9 420.0,610.0 412.6,606.7 406.7,604.1 400.4,601.0 391.8,596.6 378.7,589.7 359.1,579.3 334.4,565.9 307.7,551.4 282.1,537.6" fill="#a1baa7" stroke="#2a2a2a" stroke-width="0.9" />
<polygon points="29.7,409.2 39.0,412.3 120.0,440.3 198.9,467.1 288.5,499.5 350.0,527.0 449.0,563.0 400.0,552.0 320.0,531.0 277.9,514.5 240.0,497.9 208.4,487.6 225.0,502.0 262.0,527.9 198.9,493.1 120.0,456.0" fill="#f4c726" stroke="#3a3020" stroke-width="0.7" />
<polygon points="29.7,409.2 39.0,412.3 120.0,440.3 198.9,467.1 288.5,499.5 350.0,527.0 449.0,563.0 400.0,552.0 320.0,531.0 277.9,514.5 240.0,497.9 208.4,487.6 225.0,502.0 262.0,527.9 198.9,493.1 120.0,456.0" fill="url(#dotsS)" />
<polygon points="744.6,474.4 780.4,458.7 823.5,445.7 852.5,436.2 906.8,420.0 995.7,408.9 900.0,441.3 852.5,461.0 823.5,475.9 794.8,491.7 760.3,516.0 780.4,494.5 805.0,471.0 823.5,457.2 790.0,470.0 757.5,490.2 695.8,527.5 730.0,497.0 771.8,470.1" fill="#f4c726" stroke="#3a3020" stroke-width="0.7" />
<polygon points="744.6,474.4 780.4,458.7 823.5,445.7 852.5,436.2 906.8,420.0 995.7,408.9 900.0,441.3 852.5,461.0 823.5,475.9 794.8,491.7 760.3,516.0 780.4,494.5 805.0,471.0 823.5,457.2 790.0,470.0 757.5,490.2 695.8,527.5 730.0,497.0 771.8,470.1" fill="url(#dotsS)" />
<polygon points="825.0,463.5 769.0,490.2 826.0,467.0" fill="#f4c726" stroke="#3a3020" stroke-width="0.5" />
<polygon points="330.0,512.4 334.4,511.9 339.9,511.3 346.8,510.5 355.2,509.8 365.6,509.1 378.3,508.5 394.1,508.1 413.1,507.7 434.0,507.4 455.7,507.2 476.9,507.0 496.6,507.0 515.1,507.1 533.6,507.2 551.6,507.4 568.8,507.7 585.1,508.1 600.0,508.5 613.9,509.0 627.2,509.7 639.5,510.4 650.3,511.1 659.3,511.7 666.1,512.1 666.1,512.1 661.1,514.8 654.8,518.6 647.0,523.1 637.7,527.9 627.1,532.9 614.9,537.7 600.5,543.0 583.7,549.2 565.4,555.5 546.6,561.1 528.3,565.2 511.4,567.0 496.1,566.1 481.5,563.0 467.4,558.3 453.5,552.9 439.3,547.3 424.6,542.3 408.2,537.3 390.1,531.6 371.9,525.8 354.8,520.3 340.4,515.7 330.0,512.4" fill="url(#gridP)" stroke="#4a4a4a" stroke-width="0.7" />
<polygon points="393.5,520.5 397.2,520.5 401.0,520.5 404.7,520.6 408.4,520.7 412.2,520.8 415.9,521.0 419.6,521.1 423.4,521.2 427.1,521.4 430.8,521.5 434.6,521.7 438.3,521.9 442.0,522.1 445.8,522.4 449.5,522.6 453.2,522.9 457.0,523.1 460.7,523.4 464.4,523.6 468.2,523.9 471.9,524.1 475.6,524.3 479.4,524.5 483.1,524.6 486.8,524.7 490.6,524.9 494.3,525.0 498.1,525.0 501.8,525.0 505.5,525.0 509.3,525.1 513.0,525.0 516.7,524.9 520.5,524.8 524.2,524.7 527.9,524.6 531.7,524.4 535.4,524.3 539.1,524.1 542.9,524.0 546.6,523.8 550.3,523.6 554.1,523.5 557.8,523.3 561.5,523.1 565.3,523.0 569.0,522.8 572.7,522.6 576.5,522.4 580.2,522.2 583.9,522.0 587.7,521.8 591.4,521.6 595.1,521.4 598.9,521.2 602.6,521.0 606.3,520.8 610.1,520.6 613.8,520.4 617.6,520.2 621.3,519.9 625.0,519.7 628.8,519.4 632.5,519.0 636.2,518.6 640.0,518.1 643.7,517.6 647.4,517.0 647.4,518.1 643.7,519.6 640.0,521.1 636.2,522.5 632.5,523.8 628.8,525.2 625.0,526.5 621.3,527.7 617.6,529.0 613.8,530.2 610.1,531.4 606.3,532.6 602.6,533.9 598.9,535.1 595.1,536.3 591.4,537.6 587.7,538.8 583.9,540.1 580.2,541.3 576.5,542.4 572.7,543.6 569.0,544.8 565.3,546.0 561.5,547.0 557.8,548.0 554.1,549.0 550.3,550.1 546.6,551.1 542.9,551.8 539.1,552.6 535.4,553.3 531.7,554.1 527.9,554.7 524.2,555.1 520.5,555.4 516.7,555.7 513.0,556.0 509.3,556.0 505.5,555.8 501.8,555.5 498.1,555.3 494.3,554.8 490.6,554.0 486.8,553.2 483.1,552.4 479.4,551.4 475.6,550.3 471.9,549.1 468.2,548.0 464.4,546.7 460.7,545.3 457.0,544.0 453.2,542.6 449.5,541.3 445.8,539.9 442.0,538.5 438.3,537.2 434.6,536.0 430.8,534.8 427.1,533.6 423.4,532.4 419.6,531.3 415.9,530.2 412.2,529.1 408.4,528.0 404.7,526.8 401.0,525.7 397.2,524.5 393.5,523.2" fill="url(#hatchP)" stroke="#6a7a90" stroke-width="0.6" />
<polygon points="434.6,526.9 438.3,526.7 442.0,526.7 445.8,526.8 449.5,526.9 453.2,527.1 457.0,527.3 460.7,527.5 464.4,527.8 468.2,528.0 471.9,528.2 475.6,528.4 479.4,528.7 483.1,528.9 486.8,529.0 490.6,529.2 494.3,529.4 498.1,529.5 501.8,529.6 505.5,529.7 509.3,529.8 513.0,529.9 516.7,529.8 520.5,529.8 524.2,529.9 527.9,529.9 531.7,529.9 535.4,529.9 539.1,529.9 542.9,529.9 546.6,529.9 550.3,529.9 554.1,529.9 557.8,530.0 561.5,530.1 565.3,530.2 569.0,530.4 572.7,530.9 572.7,534.4 569.0,536.2 565.3,537.7 561.5,539.1 557.8,540.3 554.1,541.6 550.3,542.7 546.6,543.9 542.9,544.8 539.1,545.7 535.4,546.6 531.7,547.5 527.9,548.3 524.2,548.7 520.5,549.2 516.7,549.6 513.0,550.0 509.3,550.1 505.5,549.9 501.8,549.8 498.1,549.6 494.3,549.2 490.6,548.5 486.8,547.8 483.1,547.1 479.4,546.1 475.6,545.0 471.9,543.9 468.2,542.8 464.4,541.5 460.7,540.2 457.0,538.9 453.2,537.5 449.5,536.1 445.8,534.7 442.0,533.2 438.3,531.7 434.6,530.0" fill="url(#hatchY)" stroke="#555" stroke-width="0.6" />
<polyline points="337.5,511.9 341.2,511.6 344.9,511.4 348.7,511.2 352.4,511.0 356.1,510.8 359.9,510.7 363.6,510.6 367.3,510.5 371.1,510.5 374.8,510.5 378.5,510.4 382.3,510.5 386.0,510.5 389.8,510.5 393.5,510.6 397.2,510.6 401.0,510.7 404.7,510.7 408.4,510.8 412.2,510.8 415.9,510.9 419.6,510.9 423.4,511.0 427.1,511.1 430.8,511.2 434.6,511.2 438.3,511.3 442.0,511.4 445.8,511.5 449.5,511.7 453.2,511.8 457.0,511.9 460.7,512.0 464.4,512.1 468.2,512.3 471.9,512.4 475.6,512.5 479.4,512.6 483.1,512.7 486.8,512.7 490.6,512.8 494.3,512.9 498.1,512.9 501.8,513.0 505.5,513.0 509.3,513.0 513.0,513.0 516.7,513.0 520.5,513.0 524.2,513.0 527.9,513.0 531.7,512.9 535.4,512.9 539.1,512.8 542.9,512.8 546.6,512.7 550.3,512.7 554.1,512.6 557.8,512.6 561.5,512.5 565.3,512.5 569.0,512.4 572.7,512.3 576.5,512.3 580.2,512.2 583.9,512.2 587.7,512.1 591.4,512.1 595.1,512.0 598.9,512.0 602.6,512.0 606.3,511.9 610.1,511.9 613.8,511.9 617.6,511.9 621.3,512.0 625.0,512.0 628.8,512.0 632.5,512.0 636.2,512.0 640.0,512.1 643.7,512.1 647.4,512.1 651.2,512.1 654.9,512.1 658.6,512.1" fill="none" stroke="#8aaac8" stroke-width="1.2" />
<polyline points="337.5,512.5 341.2,512.6 344.9,512.7 348.7,512.8 352.4,512.9 356.1,513.0 359.9,513.2 363.6,513.4 367.3,513.6 371.1,513.8 374.8,514.1 378.5,514.3 382.3,514.6 386.0,514.9 389.8,515.2 393.5,515.5 397.2,515.8 401.0,516.1 404.7,516.4 408.4,516.7 412.2,517.0 415.9,517.3 419.6,517.6 423.4,517.9 427.1,518.2 430.8,518.6 434.6,518.9 438.3,519.3 442.0,519.7 445.8,520.1 449.5,520.5 453.2,520.9 457.0,521.3 460.7,521.7 464.4,522.1 468.2,522.6 471.9,522.9 475.6,523.3 479.4,523.6 483.1,523.9 486.8,524.1 490.6,524.4 494.3,524.6 498.1,524.8 501.8,524.8 505.5,524.9 509.3,525.0 513.0,525.0 516.7,524.9 520.5,524.8 524.2,524.7 527.9,524.6 531.7,524.4 535.4,524.1 539.1,523.9 542.9,523.7 546.6,523.5 550.3,523.2 554.1,522.9 557.8,522.6 561.5,522.3 565.3,522.0 569.0,521.7 572.7,521.4 576.5,521.0 580.2,520.7 583.9,520.4 587.7,520.0 591.4,519.7 595.1,519.3 598.9,519.0 602.6,518.7 606.3,518.4 610.1,518.1 613.8,517.7 617.6,517.4 621.3,517.1 625.0,516.8 628.8,516.5 632.5,516.1 636.2,515.7 640.0,515.3 643.7,514.9 647.4,514.5 651.2,514.0 654.9,513.5 658.6,513.0" fill="none" stroke="#4a4a5a" stroke-width="0.8" />
<polyline points="337.5,513.0 341.2,513.3 344.9,513.6 348.7,514.0 352.4,514.3 356.1,514.7 359.9,515.1 363.6,515.5 367.3,515.9 371.1,516.3 374.8,516.8 378.5,517.2 382.3,517.7 386.0,518.2 389.8,518.7 393.5,519.1 397.2,519.6 401.0,520.1 404.7,520.6 408.4,521.1 412.2,521.6 415.9,522.1 419.6,522.5 423.4,523.0 427.1,523.6 430.8,524.1 434.6,524.6 438.3,525.2 442.0,525.8 445.8,526.5 449.5,527.1 453.2,527.7 457.0,528.4 460.7,529.0 464.4,529.7 468.2,530.3 471.9,530.8 475.6,531.3 479.4,531.9 483.1,532.4 486.8,532.7 490.6,533.1 494.3,533.4 498.1,533.6 501.8,533.7 505.5,533.9 509.3,534.0 513.0,533.9 516.7,533.8 520.5,533.6 524.2,533.5 527.9,533.3 531.7,533.0 535.4,532.6 539.1,532.2 542.9,531.9 546.6,531.5 550.3,531.1 554.1,530.6 557.8,530.1 561.5,529.7 565.3,529.2 569.0,528.7 572.7,528.1 576.5,527.6 580.2,527.1 583.9,526.5 587.7,526.0 591.4,525.4 595.1,524.8 598.9,524.3 602.6,523.7 606.3,523.2 610.1,522.6 613.8,522.1 617.6,521.6 621.3,521.0 625.0,520.4 628.8,519.8 632.5,519.2 636.2,518.5 640.0,517.8 643.7,517.0 647.4,516.3 651.2,515.4 654.9,514.6 658.6,513.7" fill="none" stroke="#8aaac8" stroke-width="1.0" />
<polyline points="337.5,513.5 341.2,514.0 344.9,514.6 348.7,515.2 352.4,515.8 356.1,516.3 359.9,517.0 363.6,517.6 367.3,518.2 371.1,518.9 374.8,519.5 378.5,520.2 382.3,520.8 386.0,521.5 389.8,522.2 393.5,522.8 397.2,523.5 401.0,524.2 404.7,524.9 408.4,525.5 412.2,526.2 415.9,526.8 419.6,527.5 423.4,528.2 427.1,528.9 430.8,529.6 434.6,530.4 438.3,531.1 442.0,532.0 445.8,532.8 449.5,533.7 453.2,534.6 457.0,535.4 460.7,536.3 464.4,537.2 468.2,538.0 471.9,538.7 475.6,539.4 479.4,540.2 483.1,540.8 486.8,541.3 490.6,541.7 494.3,542.2 498.1,542.5 501.8,542.7 505.5,542.8 509.3,542.9 513.0,542.9 516.7,542.7 520.5,542.5 524.2,542.2 527.9,542.0 531.7,541.5 535.4,541.1 539.1,540.6 542.9,540.1 546.6,539.6 550.3,539.0 554.1,538.3 557.8,537.7 561.5,537.0 565.3,536.4 569.0,535.6 572.7,534.9 576.5,534.2 580.2,533.4 583.9,532.7 587.7,531.9 591.4,531.1 595.1,530.3 598.9,529.5 602.6,528.8 606.3,528.0 610.1,527.2 613.8,526.5 617.6,525.7 621.3,524.9 625.0,524.1 628.8,523.2 632.5,522.2 636.2,521.3 640.0,520.2 643.7,519.1 647.4,518.0 651.2,516.9 654.9,515.7 658.6,514.4" fill="none" stroke="#4a4a5a" stroke-width="0.8" />
<polyline points="337.5,514.2 341.2,515.1 344.9,516.0 348.7,516.9 352.4,517.9 356.1,518.8 359.9,519.7 363.6,520.6 367.3,521.6 371.1,522.5 374.8,523.5 378.5,524.4 382.3,525.4 386.0,526.3 389.8,527.3 393.5,528.2 397.2,529.2 401.0,530.1 404.7,531.1 408.4,532.0 412.2,533.0 415.9,533.9 419.6,534.8 423.4,535.7 427.1,536.7 430.8,537.8 434.6,538.8 438.3,539.9 442.0,541.0 445.8,542.2 449.5,543.4 453.2,544.6 457.0,545.8 460.7,547.0 464.4,548.2 468.2,549.3 471.9,550.3 475.6,551.3 479.4,552.3 483.1,553.2 486.8,553.8 490.6,554.5 494.3,555.1 498.1,555.5 501.8,555.7 505.5,555.9 509.3,556.1 513.0,556.1 516.7,555.7 520.5,555.4 524.2,555.1 527.9,554.8 531.7,554.1 535.4,553.5 539.1,552.8 542.9,552.1 546.6,551.4 550.3,550.5 554.1,549.6 557.8,548.7 561.5,547.8 565.3,546.9 569.0,545.9 572.7,544.8 576.5,543.8 580.2,542.7 583.9,541.7 587.7,540.6 591.4,539.5 595.1,538.4 598.9,537.3 602.6,536.2 606.3,535.1 610.1,534.0 613.8,532.9 617.6,531.7 621.3,530.5 625.0,529.4 628.8,528.1 632.5,526.7 636.2,525.3 640.0,523.8 643.7,522.3 647.4,520.7 651.2,519.0 654.9,517.2 658.6,515.5" fill="none" stroke="#4a4a5a" stroke-width="0.8" />
<polyline points="337.5,514.5 341.2,515.6 344.9,516.7 348.7,517.7 352.4,518.8 356.1,519.9 359.9,521.0 363.6,522.0 367.3,523.1 371.1,524.2 374.8,525.3 378.5,526.4 382.3,527.5 386.0,528.5 389.8,529.6 393.5,530.7 397.2,531.8 401.0,532.8 404.7,533.9 408.4,535.0 412.2,536.0 415.9,537.1 419.6,538.1 423.4,539.2 427.1,540.3 430.8,541.5 434.6,542.6 438.3,543.8 442.0,545.1 445.8,546.5 449.5,547.8 453.2,549.2 457.0,550.5 460.7,551.8 464.4,553.2 468.2,554.5 471.9,555.6 475.6,556.7 479.4,557.8 483.1,558.8 486.8,559.5 490.6,560.3 494.3,561.0 498.1,561.5 501.8,561.7 505.5,561.9 509.3,562.1 513.0,562.0 516.7,561.7 520.5,561.3 524.2,561.0 527.9,560.6 531.7,559.9 535.4,559.1 539.1,558.3 542.9,557.6 546.6,556.8 550.3,555.8 554.1,554.8 557.8,553.7 561.5,552.7 565.3,551.7 569.0,550.5 572.7,549.3 576.5,548.2 580.2,547.0 583.9,545.8 587.7,544.5 591.4,543.3 595.1,542.0 598.9,540.8 602.6,539.5 606.3,538.3 610.1,537.0 613.8,535.8 617.6,534.5 621.3,533.1 625.0,531.8 628.8,530.3 632.5,528.8 636.2,527.2 640.0,525.5 643.7,523.7 647.4,521.9 651.2,519.9 654.9,518.0 658.6,515.9" fill="none" stroke="#8aaac8" stroke-width="1.2" />
<polyline points="300.0,525.0 322.1,529.5 353.9,536.0 388.8,543.3 420.0,550.0 446.3,557.2 471.1,565.0 494.7,571.2 517.5,573.4 538.9,570.3 558.9,563.5 578.9,554.5 600.0,545.0 625.0,533.9 652.4,520.7 677.2,508.5 694.5,500.0" fill="none" stroke="#333" stroke-width="0.7" stroke-dasharray="1.2 1"/>
<polyline points="29.7,409.2 36.9,413.0 46.6,418.2 58.6,424.6 72.7,431.9 88.7,440.0 108.2,449.5 131.4,460.6 155.8,472.2 179.1,483.4 198.9,493.1 213.5,500.5 224.5,506.3 234.4,511.7 245.7,517.9 260.9,526.1 282.1,537.6 307.7,551.4 334.4,565.9 359.1,579.3 378.7,589.7 391.8,596.6 400.4,601.0 406.7,604.1 412.6,606.7 420.0,610.0 429.0,613.9 438.2,617.9 447.7,621.7 457.4,625.4 467.3,628.9 478.4,632.3 490.7,635.8 502.8,639.0 513.2,641.7 520.5,643.6" fill="none" stroke="#222" stroke-width="1.3" />
<polyline points="530.5,655.7 534.2,654.9 539.1,653.9 545.2,652.5 552.2,650.5 560.0,647.8 569.0,644.1 579.4,639.6 590.4,634.6 601.5,629.3 611.8,624.0 621.3,619.0 630.4,614.0 639.4,608.8 648.4,603.0 657.8,596.4 668.1,588.2 679.1,578.6 690.0,568.8 700.0,559.8 708.3,552.8 714.1,548.4 718.1,546.0 721.2,544.4 724.5,542.8 728.8,540.0 734.3,535.9 740.5,531.2 747.0,526.2 753.6,521.0 760.3,516.0 767.1,511.0 774.2,505.9 781.3,500.8 788.2,496.0 794.8,491.7 800.9,488.0 806.7,484.7 812.3,481.7 817.8,478.9 823.5,475.9 829.0,472.9 834.2,470.1 839.6,467.3 845.5,464.3 852.5,461.0 860.0,457.6 867.9,454.1 876.6,450.3 887.1,446.1 900.0,441.3 917.6,435.1 939.4,427.7 962.0,420.1 981.9,413.5 995.7,408.9" fill="none" stroke="#222" stroke-width="1.3" />
<polyline points="292.0,522.0 296.7,524.4 302.9,527.7 310.7,531.7 319.7,536.2 330.0,541.0 342.6,546.5 357.6,552.9 373.4,559.4 388.1,565.5 400.0,570.4 408.4,573.8 414.3,576.2 419.0,578.1 423.7,579.8 429.5,582.0 436.3,584.7 443.3,587.6 450.7,590.5 458.7,593.3 467.3,595.8 477.7,598.2 489.8,600.4 502.0,602.5 512.6,604.2 520.0,605.5" fill="none" stroke="#222" stroke-width="1.1" />
<polyline points="524.1,613.1 529.1,611.3 536.2,608.8 544.4,605.9 552.7,603.0 560.0,600.5 566.0,598.7 571.2,597.4 576.5,596.1 582.1,594.4 588.9,591.8 597.1,588.2 606.4,583.9 616.1,579.1 625.8,574.0 634.8,568.9 643.7,563.2 652.8,556.9 661.3,550.6 668.6,545.1 673.8,541.3" fill="none" stroke="#222" stroke-width="1.1" />
<polygon points="20.0,380.0 1022.0,380.0 1022.0,404.0 1018.7,404.7 1014.4,405.8 1007.3,407.1 995.7,408.9 977.1,411.1 953.0,413.7 928.1,416.7 906.8,420.0 890.2,423.8 875.9,428.2 863.5,432.5 852.5,436.2 843.8,439.0 837.3,441.2 831.1,443.2 823.5,445.7 813.5,448.6 802.4,451.8 791.0,455.2 780.4,458.7 771.3,462.2 762.9,465.9 754.3,469.8 744.6,474.4 732.0,480.4 717.6,487.4 704.2,494.0 695.0,498.5 695.0,498.5 689.3,499.3 681.2,500.3 671.3,501.5 660.0,502.5 647.2,503.3 632.8,504.0 617.0,504.6 600.0,505.0 581.9,505.3 562.5,505.5 541.9,505.6 520.0,505.5 497.1,505.2 473.2,504.8 447.7,504.2 420.0,503.5 386.3,502.5 348.0,501.4 312.9,500.3 288.5,499.5 288.5,499.5 272.1,493.5 248.6,485.0 222.6,475.6 198.9,467.1 178.5,460.0 158.9,453.4 139.6,447.0 120.0,440.3 98.2,432.8 75.2,424.8 54.3,417.6 39.0,412.3 31.6,409.8 29.9,409.3 30.4,409.5 29.7,409.2 27.1,407.9 24.3,406.4 21.8,405.0 20.0,404.0" fill="#fff" />
<path d="M262,486.5 L722,486.5 L695.0,498.5 L689.3,499.3 L681.2,500.3 L671.3,501.5 L660.0,502.5 L647.2,503.3 L632.8,504.0 L617.0,504.6 L600.0,505.0 L581.9,505.3 L562.5,505.5 L541.9,505.6 L520.0,505.5 L497.1,505.2 L473.2,504.8 L447.7,504.2 L420.0,503.5 L386.3,502.5 L348.0,501.4 L312.9,500.3 L288.5,499.5 Z" fill="url(#lake)"/>
<polyline points="288.5,499.5 312.9,500.3 348.0,501.4 386.3,502.5 420.0,503.5 447.7,504.2 473.2,504.8 497.1,505.2 520.0,505.5 541.9,505.6 562.5,505.5 581.9,505.3 600.0,505.0 617.0,504.6 632.8,504.0 647.2,503.3 660.0,502.5 671.3,501.5 681.2,500.3 689.3,499.3 695.0,498.5" fill="none" stroke="#3a7fa8" stroke-width="0.7" />
<polyline points="20.0,404.0 21.8,405.0 24.3,406.4 27.1,407.9 29.7,409.2 30.4,409.5 29.9,409.3 31.6,409.8 39.0,412.3 54.3,417.6 75.2,424.8 98.2,432.8 120.0,440.3 139.6,447.0 158.9,453.4 178.5,460.0 198.9,467.1 222.6,475.6 248.6,485.0 272.1,493.5 288.5,499.5" fill="none" stroke="#2a2a2a" stroke-width="1.0" />
<polyline points="695.0,498.5 704.2,494.0 717.6,487.4 732.0,480.4 744.6,474.4 754.3,469.8 762.9,465.9 771.3,462.2 780.4,458.7 791.0,455.2 802.4,451.8 813.5,448.6 823.5,445.7 831.1,443.2 837.3,441.2 843.8,439.0 852.5,436.2 863.5,432.5 875.9,428.2 890.2,423.8 906.8,420.0 928.1,416.7 953.0,413.7 977.1,411.1 995.7,408.9 1007.3,407.1 1014.4,405.8 1018.7,404.7 1022.0,404.0" fill="none" stroke="#2a2a2a" stroke-width="1.0" />
<polygon points="20.0,404.0 23.6,406.0 29.7,409.2 33.8,427.7 38.9,470.0 48.3,509.6 65.4,500.2 63.9,483.1 74.8,500.2 112.1,504.9 68.5,514.3 49.8,522.0 49.8,554.8 54.5,573.5 48.3,599.9 129.3,591.5 63.9,612.4 56.1,635.8 63.9,690.0 20.0,690.0" fill="#e8882a" stroke="#5a3010" stroke-width="0.6" />
<polygon points="999.6,408.3 1001.7,408.3 997.5,428.1 1009.0,425.0 996.5,432.2 996.5,451.0 1011.5,444.7 995.5,457.2 993.4,479.0 992.3,502.0 1017.3,494.7 994.4,508.2 997.3,540.0 1002.6,595.9 1018.8,593.8 1009.1,611.0 1022.0,690.0 969.3,690.0 972.5,623.9 887.5,591.6 975.7,604.5 977.8,539.4 897.7,515.5 977.8,526.9 979.9,497.8 987.1,475.9 954.9,461.4 988.2,470.7 992.3,443.7 976.1,430.8 993.4,439.5 996.5,425.0" fill="#e8882a" stroke="#5a3010" stroke-width="0.6" />
<polygon points="528.0,655.5 531.5,655.5 532.5,659.0 542.3,660.5 533.5,663.0 535.5,674.0 554.1,677.0 537.0,680.0 541.0,690.5 522.6,690.5 530.0,684.0 528.5,668.0 528.5,659.5 517.8,657.3" fill="#e8882a" stroke="#5a3010" stroke-width="0.6" />
<path d="M505.5,507.1 L533.6,690" fill="none" stroke="#d8262c" stroke-width="2"/>
<path d="M101.8,467.6h18.5M111.0,462.8v9.6M120.1,514.3h18.5M129.3,509.5v9.6M202.8,533.2h18.5M212.0,528.4v9.6M134.1,551.7h18.5M143.3,546.9v9.6M235.9,579.0h18.5M245.1,574.2v9.6M294.5,590.6h18.5M303.7,585.8v9.6M141.9,595.9h18.5M151.1,591.1v9.6M152.2,628.9h18.5M161.4,624.1v9.6M259.8,626.7h18.5M269.0,621.9v9.6M348.5,624.3h18.5M357.7,619.5v9.6M170.8,670.0h18.5M180.0,665.2v9.6M276.3,669.0h18.5M285.5,664.2v9.6M347.5,667.4h18.5M356.7,662.6v9.6M431.5,668.3h18.5M440.7,663.5v9.6M555.0,669.8h18.5M564.2,665.0v9.6M633.3,627.6h18.5M642.5,622.8v9.6M640.8,669.8h18.5M650.0,665.0v9.6M882.0,471.2h18.5M891.2,466.4v9.6M808.7,504.5h18.5M817.9,499.7v9.6M873.1,520.0h18.5M882.3,515.2v9.6M764.2,539.2h18.5M773.4,534.4v9.6M837.6,553.4h18.5M846.8,548.6v9.6M726.4,584.5h18.5M735.6,579.7v9.6M825.6,589.0h18.5M834.8,584.2v9.6M726.4,627.7h18.5M735.6,622.9v9.6M813.1,626.8h18.5M822.3,622.0v9.6M724.2,669.0h18.5M733.4,664.2v9.6M804.2,669.0h18.5M813.4,664.2v9.6" stroke="#3a332c" stroke-width="1.8" fill="none"/>
<path d="M470.1,613.7L479.8,623.1L490.2,613.7M563.5,612.2L573.2,621.6L583.6,612.2M623.8,579.1L633.5,588.5L643.9,579.1M317.2,548.1L327.0,557.5L337.4,548.1M394.2,577.1L404.0,586.5L414.4,577.1" stroke="#2a2a2a" stroke-width="1.6" fill="none"/>
</g>
<path d="M23.6,406 L26,689.5 L1020.2,689.5 L1018,405" fill="none" stroke="#6a6a6a" stroke-width="1"/>
<path d="M22.9,406.6 Q23.5,398.5 30.8,398.7 Q37,399 39.5,412.5 Z" fill="#c8a65c" stroke="#4a3a1a" stroke-width="0.8"/>
<path d="M1000,391 L1007.5,390.5 L1017.8,405.5 L985.2,408.2 Z" fill="#c8a65c" stroke="#4a3a1a" stroke-width="0.6"/>
<g><circle cx="28.5" cy="377.5" r="5.1000000000000005" fill="#2a2a2a"/><circle cx="31.5" cy="372" r="5.4" fill="#2a2a2a"/><circle cx="39" cy="371.5" r="5.9" fill="#2a2a2a"/><circle cx="48.5" cy="374.5" r="5.9" fill="#2a2a2a"/><circle cx="52" cy="379.5" r="4.9" fill="#2a2a2a"/><circle cx="48" cy="382.5" r="4.9" fill="#2a2a2a"/><circle cx="39" cy="379" r="6.4" fill="#2a2a2a"/><circle cx="31" cy="381" r="4.9" fill="#2a2a2a"/><circle cx="28.5" cy="377.5" r="4.2" fill="#e8e8e8"/><circle cx="31.5" cy="372" r="4.5" fill="#e8e8e8"/><circle cx="39" cy="371.5" r="5" fill="#e8e8e8"/><circle cx="48.5" cy="374.5" r="5" fill="#e8e8e8"/><circle cx="52" cy="379.5" r="4" fill="#e8e8e8"/><circle cx="48" cy="382.5" r="4" fill="#e8e8e8"/><circle cx="39" cy="379" r="5.5" fill="#e8e8e8"/><circle cx="31" cy="381" r="4" fill="#e8e8e8"/><ellipse cx="39.7" cy="377.2" rx="12.8" ry="6.5" fill="#e8e8e8"/><path d="M37.1,384.5 L37.9,390.8 M43.4,385.8 L40.3,390" stroke="#2a2a2a" stroke-width="1" fill="none"/></g>
<g><circle cx="989.5" cy="373" r="5.4" fill="#2a2a2a"/><circle cx="993" cy="366.5" r="5.9" fill="#2a2a2a"/><circle cx="1001" cy="364.5" r="6.4" fill="#2a2a2a"/><circle cx="1011" cy="366.5" r="6.4" fill="#2a2a2a"/><circle cx="1016.5" cy="372.5" r="5.4" fill="#2a2a2a"/><circle cx="1011" cy="379" r="5.4" fill="#2a2a2a"/><circle cx="1001" cy="376" r="6.9" fill="#2a2a2a"/><circle cx="993" cy="378.5" r="5.4" fill="#2a2a2a"/><circle cx="989.5" cy="373" r="4.5" fill="#e8e8e8"/><circle cx="993" cy="366.5" r="5" fill="#e8e8e8"/><circle cx="1001" cy="364.5" r="5.5" fill="#e8e8e8"/><circle cx="1011" cy="366.5" r="5.5" fill="#e8e8e8"/><circle cx="1016.5" cy="372.5" r="4.5" fill="#e8e8e8"/><circle cx="1011" cy="379" r="4.5" fill="#e8e8e8"/><circle cx="1001" cy="376" r="6" fill="#e8e8e8"/><circle cx="993" cy="378.5" r="4.5" fill="#e8e8e8"/><ellipse cx="1002.0" cy="372.1" rx="14.5" ry="8.2" fill="#e8e8e8"/><path d="M1000,382.5 L1001,389.1 M1009,384 L1004.3,388.7" stroke="#2a2a2a" stroke-width="1" fill="none"/></g>
<path d="M60.5,401 Q80,397 93,410" fill="none" stroke="#2a2a2a" stroke-width="1.4"/><path d="M86,408.5 L94.3,410.8 L92,403" fill="none" stroke="#2a2a2a" stroke-width="1.4"/>
<path d="M960,400 Q940,401 927,411" fill="none" stroke="#2a2a2a" stroke-width="1.4"/><path d="M933.5,411.5 L926.8,411.5 L928.5,405" fill="none" stroke="#2a2a2a" stroke-width="1.4"/>
<g stroke="#3a3a3a" stroke-width="1.1" fill="none"><path d="M375.2,408.3H388.1M410,408.3H423M398.8,392.1V401.2M398.4,415.4V423.8M382.6,396.6L391.3,402.4M407.1,402.4L416.5,396.3M382.9,419.6L391.3,413.4M407.5,413.4L416.5,419.6"/></g>
<ellipse cx="398.4" cy="408.3" rx="9.2" ry="6.4" fill="#e02a2c" stroke="#6a1a1a" stroke-width="0.6"/>
<path d="M349.5,455.5 C349.0,458.5 343.5,460.0 344.5,462.5 C345.5,465.0 354.0,464.5 353.5,468.0 C353.0,471.5 348.0,472.5 346.0,471.0" fill="none" stroke="#2a2a2a" stroke-width="1.2"/><path d="M347.5,457.0 L349.5,452.5 L351.5,457.0Z" fill="#2a2a2a"/>
<path d="M450.0,455.5 C449.5,458.5 444.0,460.0 445.0,462.5 C446.0,465.0 454.5,464.5 454.0,468.0 C453.5,471.5 448.5,472.5 446.5,471.0" fill="none" stroke="#2a2a2a" stroke-width="1.2"/><path d="M448.0,457.0 L450.0,452.5 L452.0,457.0Z" fill="#2a2a2a"/>
<path d="M543.0,455.5 C542.5,458.5 537.0,460.0 538.0,462.5 C539.0,465.0 547.5,464.5 547.0,468.0 C546.5,471.5 541.5,472.5 539.5,471.0" fill="none" stroke="#2a2a2a" stroke-width="1.2"/><path d="M541.0,457.0 L543.0,452.5 L545.0,457.0Z" fill="#2a2a2a"/>
<path d="M639.5,455.5 C639.0,458.5 633.5,460.0 634.5,462.5 C635.5,465.0 644.0,464.5 643.5,468.0 C643.0,471.5 638.0,472.5 636.0,471.0" fill="none" stroke="#2a2a2a" stroke-width="1.2"/><path d="M637.5,457.0 L639.5,452.5 L641.5,457.0Z" fill="#2a2a2a"/>
<text x="105" y="413" font-size="21" letter-spacing="0.4">沉积物搬运方向</text>
<text x="760" y="411" font-size="21" letter-spacing="0.4">沉积物搬运方向</text>
<text x="505.5" y="442" font-size="21" letter-spacing="0.2">蒸发作用</text>
<text x="491.5" y="499" font-size="21" letter-spacing="0.2">湖水</text>
<text x="867.5" y="656" font-size="21">基岩</text>
<text x="686" y="291" font-size="21">基岩</text>
<text x="31" y="679.5" font-size="25" textLength="32.5" lengthAdjust="spacingAndGlyphs">(b)</text>
<path d="M882.2,372.1H913.4L905.6,361.7" fill="none" stroke="#2a2a2a" stroke-width="1.2"/>
<text x="917" y="375.3" font-size="22">SE</text>
<rect x="1063.5" y="76.0" width="52" height="30.5" fill="#fff" stroke="#231f20" stroke-width="1.8"/>
<text x="1130.8" y="99.0" font-size="22" letter-spacing="1.2">地层线</text>
<path d="M1070.5,83.0 Q1083.5,96.0 1109.5,94.0" fill="none" stroke="#333" stroke-width="1"/>
<rect x="1063.5" y="125.3" width="52" height="30.5" fill="#fff" stroke="#231f20" stroke-width="1.8"/>
<text x="1130.8" y="148.3" font-size="22" letter-spacing="1.2">不整合面</text>
<path d="M1070.5,132.35 q3,7 8,6 q4,-1 6,3 q4,4 8,1 q4,-3 8,1 q4,2 9,-1" fill="none" stroke="#333" stroke-width="1"/>
<rect x="1063.5" y="174.7" width="52" height="30.5" fill="#fff" stroke="#231f20" stroke-width="1.8"/>
<text x="1130.8" y="197.7" font-size="22" letter-spacing="1.2">正断层</text>
<path d="M1079.5,179.7 L1098.5,199.7" fill="none" stroke="#d8262c" stroke-width="1.6"/>
<rect x="1063.5" y="224.1" width="52" height="30.5" fill="#9fb6a4" stroke="#231f20" stroke-width="1.8"/>
<text x="1130.8" y="247.1" font-size="22" letter-spacing="1.2">安山岩</text>
<path d="M1070.5,236.05 L1077.0,244.05 L1083.5,236.05 M1093.5,236.05 L1100.5,244.05 L1107.0,236.05" fill="none" stroke="#222" stroke-width="1.3"/>
<rect x="1063.5" y="273.4" width="52" height="30.5" fill="#fdcd0a" stroke="#231f20" stroke-width="1.8"/>
<text x="1130.8" y="296.4" font-size="22" letter-spacing="1.2">砂岩</text>
<rect x="1073.0" y="285.9" width="4" height="4" fill="#1a1a1a"/>
<rect x="1088.5" y="285.9" width="4" height="4" fill="#1a1a1a"/>
<rect x="1103.0" y="285.9" width="4" height="4" fill="#1a1a1a"/>
<rect x="1063.5" y="322.8" width="52" height="30.5" fill="#f8e36c" stroke="#231f20" stroke-width="1.8"/>
<text x="1130.8" y="345.8" font-size="22" letter-spacing="1.2">砂砾岩</text>
<circle cx="1075.5" cy="337.75" r="1.2" fill="#222"/>
<circle cx="1089.5" cy="337.75" r="1.2" fill="#b0a070"/>
<circle cx="1103.5" cy="337.75" r="1.2" fill="#222"/>
<rect x="1063.5" y="372.1" width="52" height="30.5" fill="#c8c8c8" stroke="#231f20" stroke-width="1.8"/>
<text x="1130.8" y="395.1" font-size="22" letter-spacing="1.2">泥岩</text>
<path d="M1077.5,387.1h8M1094.5,387.1h8" stroke="#444" stroke-width="1.1"/>
<rect x="1063.5" y="421.4" width="52" height="30.5" fill="#8fd3f4" stroke="#231f20" stroke-width="1.8"/>
<text x="1130.8" y="444.4" font-size="22" letter-spacing="1.2">白云质泥岩</text>
<path d="M1064.5,450.95 L1085.5,421.95 M1085.0,437.45h9M1101.5,437.45h9" stroke="#222" stroke-width="1"/>
<rect x="1063.5" y="470.8" width="52" height="30.5" fill="#e8949e" stroke="#231f20" stroke-width="1.8"/>
<text x="1130.8" y="493.8" font-size="22" letter-spacing="1.2">天然碱</text>
<path d="M1063.5,476.3h52M1063.5,486.3h52M1063.5,495.8h52M1080.5,476.3v19.5M1097.5,476.3v19.5" stroke="#5a2a30" stroke-width="1"/>
<rect x="1063.5" y="520.2" width="52" height="30.5" fill="#f1c7dd" stroke="#231f20" stroke-width="1.8"/>
<text x="1130.8" y="543.2" font-size="22" letter-spacing="1.2">盐碱</text>
<path d="M1063.5,527.1500000000001h52M1063.5,534.6500000000001h52M1063.5,544.1500000000001h52M1066.5,544.1500000000001 L1082.5,527.1500000000001 M1082.0,544.1500000000001 L1098.0,527.1500000000001 M1097.5,544.1500000000001 L1113.5,527.1500000000001" stroke="#3a2a30" stroke-width="1"/>
<rect x="1063.5" y="569.5" width="52" height="30.5" fill="#f8f0b4" stroke="#231f20" stroke-width="1.8"/>
<text x="1130.8" y="592.5" font-size="22" letter-spacing="1.2">石盐</text>
<path d="M1063.5,576.5h52M1063.5,593.0h52M1070.5,593.0 L1076.5,576.5 M1086.0,593.0 L1092.0,576.5 M1101.5,593.0 L1107.5,576.5" stroke="#333" stroke-width="1"/>
<rect x="1063.5" y="618.9" width="52" height="30.5" fill="#fff" stroke="#231f20" stroke-width="1.8"/>
<text x="1130.8" y="641.9" font-size="22" letter-spacing="1.2">火山通道</text>
<polygon points="1080.0,622.2 1083.0,629.6 1086.2,636.8 1093.4,638.9 1087.2,641.0 1090.3,648.2 1082.0,648.2 1081.0,636.8 1075.8,632.6 1080.3,630.4" fill="#e8882a" stroke="#5a3010" stroke-width="0.5" />
</svg></body></html>
